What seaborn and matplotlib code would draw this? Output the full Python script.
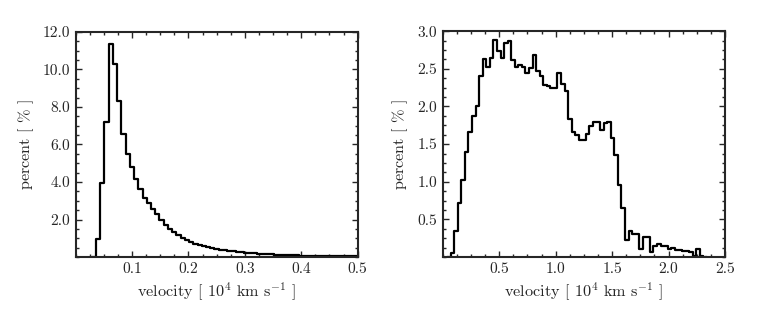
import numpy as np
import pandas as pd
import matplotlib
matplotlib.use("Agg")
import matplotlib.pyplot as plt
import seaborn as sns
from matplotlib.ticker import AutoMinorLocator, FormatStrFormatter

# left panel: narrow velocity distribution, bin width 0.0075 starting at 0.036
left_start = 0.036
left_width = 0.0075
left_pct = [
    0.98, 3.96, 7.19, 11.38, 10.27, 8.31, 6.57, 5.47, 4.81, 4.14,
    3.61, 3.16, 2.86, 2.58, 2.27, 1.97, 1.72, 1.51, 1.33, 1.17,
    1.03, 0.91, 0.80, 0.71, 0.64, 0.58, 0.53, 0.48, 0.44, 0.40,
    0.37, 0.34, 0.31, 0.28, 0.26, 0.24, 0.22, 0.20, 0.18, 0.17,
    0.155, 0.14, 0.13, 0.12, 0.11, 0.10, 0.095, 0.088, 0.08, 0.074,
    0.068, 0.063, 0.058, 0.054, 0.05, 0.046, 0.043, 0.04, 0.037, 0.034,
    0.032, 0.03,
]

# right panel: broad velocity distribution, bin width 0.0315 starting at 0.071
right_start = 0.071
right_width = 0.0315
right_pct = [
    0.05, 0.35, 0.72, 1.02, 1.39, 1.66, 1.88, 2.01, 2.40, 2.63,
    2.52, 2.64, 2.88, 2.74, 2.64, 2.85, 2.87, 2.62, 2.52, 2.55,
    2.53, 2.45, 2.51, 2.68, 2.47, 2.41, 2.28, 2.27, 2.24, 2.25,
    2.44, 2.30, 2.20, 1.84, 1.66, 1.62, 1.55, 1.55, 1.63, 1.74,
    1.80, 1.80, 1.69, 1.78, 1.79, 1.58, 1.35, 0.96, 0.65, 0.23,
    0.35, 0.30, 0.30, 0.10, 0.27, 0.26, 0.07, 0.14, 0.17, 0.14,
    0.15, 0.10, 0.12, 0.09, 0.09, 0.08, 0.08, 0.06, 0.02, 0.10,
    0.02,
]

left_xticks = [0.1, 0.2, 0.3, 0.4, 0.5]
left_yticks = [2, 4, 6, 8, 10, 12]
right_xticks = [0.5, 1.0, 1.5, 2.0, 2.5]
right_yticks = [0.5, 1.0, 1.5, 2.0, 2.5, 3.0]

sns.set_style("ticks")
plt.rcParams["font.family"] = "serif"
plt.rcParams["font.serif"] = ["cmr10", "DejaVu Serif"]
plt.rcParams["mathtext.fontset"] = "cm"
plt.rcParams["axes.formatter.use_mathtext"] = True


def draw_panel(ax, start, width, pct, xlim, ylim, xticks, yticks):
    # empty bins on both sides so the outline drops to zero at the ends
    vals = [0.0] + list(pct) + [0.0]
    edges = (start - width) + width * np.arange(len(vals) + 1)
    df = pd.DataFrame({"v": 0.5 * (edges[:-1] + edges[1:]), "pct": vals})
    sns.histplot(data=df, x="v", weights="pct", bins=edges.tolist(),
                 element="step", fill=False, color="black", linewidth=1.6,
                 ax=ax)
    ax.set_xlim(*xlim)
    ax.set_ylim(*ylim)
    ax.set_xticks(xticks)
    ax.set_yticks(yticks)
    ax.xaxis.set_minor_locator(AutoMinorLocator(4))
    ax.yaxis.set_minor_locator(AutoMinorLocator(4))
    ax.xaxis.set_major_formatter(FormatStrFormatter("%.1f"))
    ax.yaxis.set_major_formatter(FormatStrFormatter("%.1f"))
    ax.tick_params(which="both", direction="in", top=True, right=True,
                   width=1.0, labelsize=11.2, pad=4)
    ax.tick_params(which="major", length=4.5)
    ax.tick_params(which="minor", length=2.5)
    for sp in ax.spines.values():
        sp.set_linewidth(1.5)
    ax.set_xlabel(r"velocity [ $10^4$ km s$^{-1}$ ]", fontsize=11.7,
                  labelpad=3)
    ax.set_ylabel(r"percent [ $\%$ ]", fontsize=11.7, labelpad=5)


fig = plt.figure(figsize=(7.63, 3.23), dpi=100)
ax1 = fig.add_axes([0.0992, 0.2043, 0.3696, 0.6967])
ax2 = fig.add_axes([0.5802, 0.2043, 0.3700, 0.6990])

draw_panel(ax1, left_start, left_width, left_pct, (0, 0.5), (0, 12),
           left_xticks, left_yticks)
draw_panel(ax2, right_start, right_width, right_pct, (0, 2.5), (0, 3),
           right_xticks, right_yticks)

fig.savefig("out.png", dpi=100)
